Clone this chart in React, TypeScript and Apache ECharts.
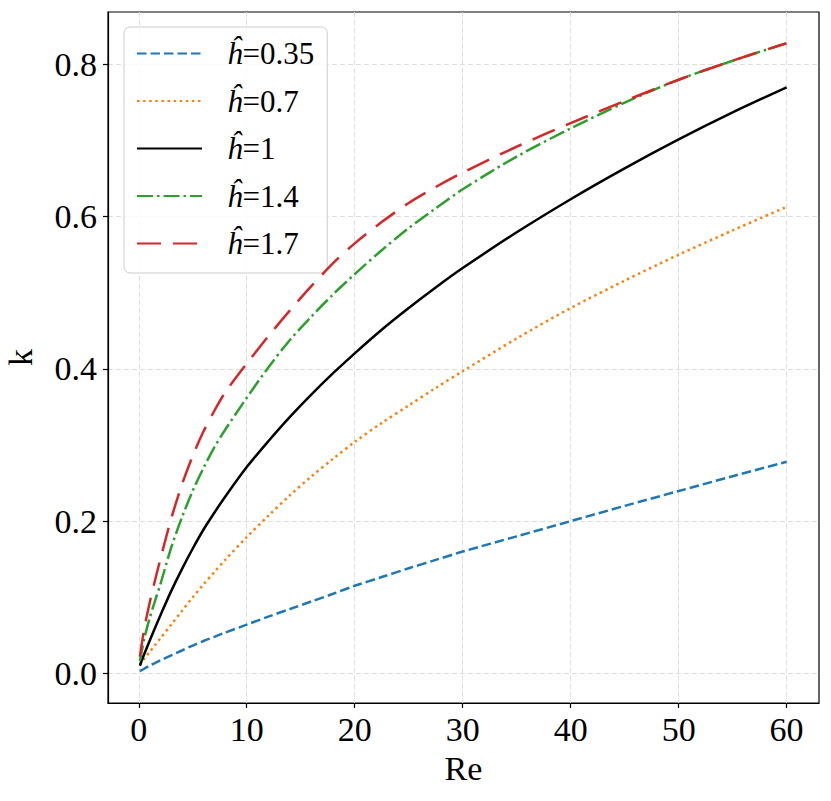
import React, { useEffect, useRef } from "react";
import * as echarts from "echarts";

const reValues = [0.1, 0.5, 1, 1.5, 2, 3, 4, 5, 6, 7, 8, 10, 12, 14, 16, 18, 20, 22.5, 25, 27.5, 30, 35, 40, 45, 50, 55, 60];
const kH035 = [0.003, 0.006, 0.010, 0.0135, 0.017, 0.0235, 0.030, 0.0365, 0.0425, 0.048, 0.0535, 0.064, 0.0745, 0.0845, 0.0945, 0.1045, 0.115, 0.1265, 0.138, 0.149, 0.160, 0.180, 0.200, 0.220, 0.2395, 0.259, 0.278];
const kH07 = [0.011, 0.019, 0.028, 0.037, 0.046, 0.064, 0.082, 0.100, 0.117, 0.133, 0.149, 0.179, 0.207, 0.234, 0.259, 0.282, 0.304, 0.329, 0.352, 0.375, 0.397, 0.440, 0.480, 0.516, 0.550, 0.582, 0.613];
const kH1 = [0.010, 0.025, 0.0425, 0.0595, 0.076, 0.108, 0.137, 0.164, 0.189, 0.211, 0.232, 0.271, 0.305, 0.337, 0.3666, 0.3944, 0.4205, 0.4515, 0.480, 0.507, 0.5325, 0.5795, 0.623, 0.6635, 0.7015, 0.737, 0.770];
const kH14 = [0.016, 0.045, 0.072, 0.095, 0.117, 0.165, 0.205, 0.240, 0.270, 0.297, 0.320, 0.362, 0.402, 0.438, 0.469, 0.498, 0.5245, 0.556, 0.585, 0.611, 0.636, 0.679, 0.716, 0.750, 0.780, 0.805, 0.828];
const kH17 = [0.022, 0.058, 0.092, 0.122, 0.150, 0.203, 0.248, 0.286, 0.318, 0.345, 0.369, 0.407, 0.443, 0.477, 0.509, 0.539, 0.565, 0.593, 0.618, 0.639, 0.658, 0.692, 0.723, 0.752, 0.780, 0.805, 0.828];

const seriesNames = ["ĥ=0.35", "ĥ=0.7", "ĥ=1", "ĥ=1.4", "ĥ=1.7"];
const seriesColors = ["#1f77b4", "#ff7f0e", "#000000", "#2ca02c", "#d62728"];
const seriesDashes: any[] = [[9.5, 4], [2.5, 3.6], "solid", [16, 4, 2.5, 4], [24, 12]];
const seriesValues = [kH035, kH07, kH1, kH14, kH17];

const xTicks = [0, 10, 20, 30, 40, 50, 60];
const yTicks = [0, 0.2, 0.4, 0.6, 0.8];

const FONT = "Liberation Serif";

export default function App() {
  const ref = useRef<HTMLDivElement>(null);
  useEffect(() => {
    if (!ref.current) return;
    const chart = echarts.init(ref.current, null, { renderer: "svg" });
    const series = seriesNames.map((name, i) => ({
      name,
      type: "line",
      data: reValues.map((x, j) => [x, seriesValues[i][j]]),
      showSymbol: false,
      symbol: "none",
      smooth: 0.3,
      lineStyle: { color: seriesColors[i], width: 2.5, type: seriesDashes[i], cap: "butt" },
      itemStyle: { color: seriesColors[i] },
      z: 2 + i,
    }));
    const richText = {
      i: { fontFamily: FONT, fontSize: 31, fontStyle: "italic", color: "#000", lineHeight: 30 },
      n: { fontFamily: FONT, fontSize: 31, color: "#000", lineHeight: 30 },
    };
    chart.setOption({
      animation: false,
      backgroundColor: "#ffffff",
      grid: {
        left: 108,
        right: 12,
        top: 12,
        bottom: 98,
        show: true,
        borderColor: "#000",
        borderWidth: 1.2,
        backgroundColor: "transparent",
        containLabel: false,
        outerBoundsMode: "none",
      },
      legend: {
        orient: "vertical",
        left: 124,
        top: 27,
        itemWidth: 65,
        itemHeight: 14,
        itemGap: 16.5,
        padding: [11, 13, 14, 12],
        backgroundColor: "rgba(255,255,255,0.8)",
        borderColor: "#cccccc",
        borderWidth: 1,
        borderRadius: 6,
        data: seriesNames,
        itemStyle: { opacity: 0, borderWidth: 0 },
        formatter: (name: string) => {
          const idx = name.indexOf("=");
          return "{i|" + name.slice(0, idx) + "}{n|" + name.slice(idx) + "}";
        },
        textStyle: {
          fontFamily: FONT,
          fontSize: 31,
          color: "#000",
          lineHeight: 30,
          padding: [0, 0, 0, 20],
          rich: richText,
        },
      },
      xAxis: {
        type: "value",
        min: -2.85,
        max: 63,
        minInterval: 10,
        maxInterval: 10,
        name: "Re",
        nameLocation: "middle",
        nameGap: 48,
        nameTextStyle: { fontFamily: FONT, fontSize: 34, color: "#000" },
        axisLine: { show: true, onZero: false, lineStyle: { color: "#000", width: 1.2 } },
        axisTick: { show: true, inside: false, length: 5, customValues: xTicks, lineStyle: { color: "#000", width: 1.2 } },
        axisLabel: {
          customValues: xTicks,
          margin: 9,
          fontFamily: FONT,
          fontSize: 34,
          color: "#000",
          formatter: (v: number) => String(v),
        },
        splitLine: { show: true, lineStyle: { color: "#dddddd", width: 1, type: [5, 3] } },
      },
      yAxis: {
        type: "value",
        min: -0.039,
        max: 0.869,
        minInterval: 0.2,
        maxInterval: 0.2,
        name: "k",
        nameLocation: "middle",
        nameGap: 71,
        nameTextStyle: { fontFamily: FONT, fontSize: 34, color: "#000" },
        axisLine: { show: true, onZero: false, lineStyle: { color: "#000", width: 1.2 } },
        axisTick: { show: true, inside: false, length: 5, customValues: yTicks, lineStyle: { color: "#000", width: 1.2 } },
        axisLabel: {
          customValues: yTicks,
          margin: 11,
          fontFamily: FONT,
          fontSize: 34,
          color: "#000",
          formatter: (v: number) => v.toFixed(1),
        },
        splitLine: { show: true, lineStyle: { color: "#dddddd", width: 1, type: [5, 3] } },
      },
      series,
    });
    return () => chart.dispose();
  }, []);
  return (
    <div
      ref={ref}
      style={{ position: "fixed", left: 0, top: 0, width: 831, height: 801 }}
    />
  );
}
